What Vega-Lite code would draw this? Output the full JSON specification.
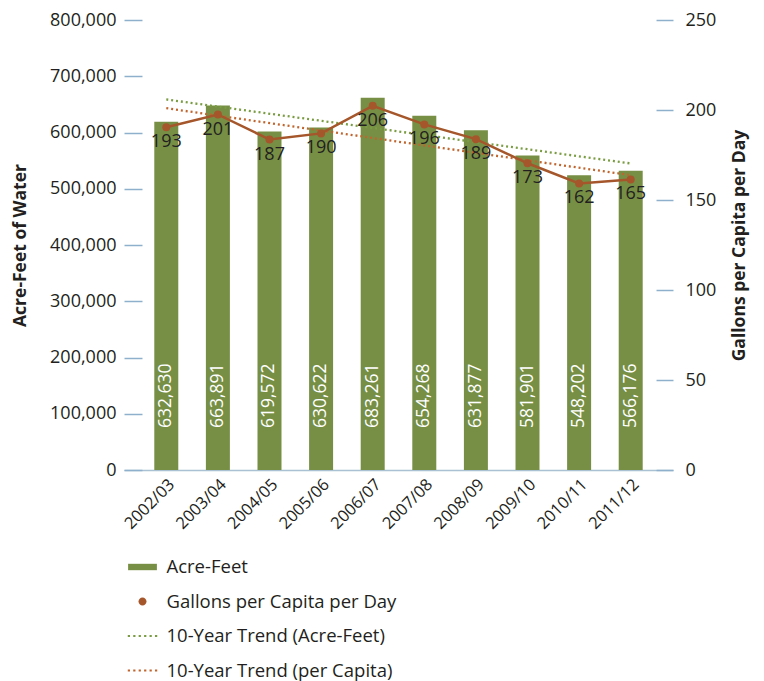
{
  "$schema": "https://vega.github.io/schema/vega-lite/v6.json",
  "width": 549,
  "height": 450,
  "autosize": "none",
  "padding": {"left": 124, "top": 20, "right": 91, "bottom": 211},
  "background": "white",
  "datasets": {
    "main": [
      {"period": "2002/03", "acre_feet": 619000, "acre_feet_label": "632,630", "gpcd": 190.4, "gpcd_label": "193"},
      {"period": "2003/04", "acre_feet": 648000, "acre_feet_label": "663,891", "gpcd": 197.5, "gpcd_label": "201"},
      {"period": "2004/05", "acre_feet": 602000, "acre_feet_label": "619,572", "gpcd": 183.6, "gpcd_label": "187"},
      {"period": "2005/06", "acre_feet": 609000, "acre_feet_label": "630,622", "gpcd": 187.0, "gpcd_label": "190"},
      {"period": "2006/07", "acre_feet": 662000, "acre_feet_label": "683,261", "gpcd": 202.3, "gpcd_label": "206"},
      {"period": "2007/08", "acre_feet": 630000, "acre_feet_label": "654,268", "gpcd": 192.0, "gpcd_label": "196"},
      {"period": "2008/09", "acre_feet": 604000, "acre_feet_label": "631,877", "gpcd": 183.8, "gpcd_label": "189"},
      {"period": "2009/10", "acre_feet": 559000, "acre_feet_label": "581,901", "gpcd": 170.4, "gpcd_label": "173"},
      {"period": "2010/11", "acre_feet": 524000, "acre_feet_label": "548,202", "gpcd": 159.2, "gpcd_label": "162"},
      {"period": "2011/12", "acre_feet": 532000, "acre_feet_label": "566,176", "gpcd": 161.4, "gpcd_label": "165"}
    ],
    "trend": [
      {"period": "2002/03", "series": "af", "value": 658700},
      {"period": "2011/12", "series": "af", "value": 545000},
      {"period": "2002/03", "series": "pc", "value": 201},
      {"period": "2011/12", "series": "pc", "value": 163.8}
    ],
    "legend": [
      {"series": "Acre-Feet"},
      {"series": "Gallons per Capita per Day"},
      {"series": "10-Year Trend (Acre-Feet)"},
      {"series": "10-Year Trend (per Capita)"}
    ]
  },
  "layer": [
    {
      "layer": [
        {
          "data": {"name": "main"},
          "mark": {"type": "bar", "color": "#778f45"},
          "encoding": {
            "x": {"field": "period", "type": "nominal", "scale": {"paddingInner": 0.535, "paddingOuter": 0.587}, "axis": {"title": null}},
            "y": {"field": "acre_feet", "type": "quantitative", "title": "Acre-Feet of Water", "scale": {"domain": [0, 800000], "nice": false},
              "axis": {"orient": "left", "title": "Acre-Feet of Water", "values": [0, 100000, 200000, 300000, 400000, 500000, 600000, 700000, 800000], "labelExpr": "format(datum.value, ',')"}}
          }
        },
        {
          "data": {"name": "main"},
          "mark": {"type": "text", "angle": 270, "align": "left", "baseline": "middle", "dx": 42, "color": "white", "font": "Open Sans", "fontSize": 17.5},
          "encoding": {
            "x": {"field": "period", "type": "nominal", "axis": {"title": null}},
            "y": {"datum": 0, "type": "quantitative", "title": "Acre-Feet of Water", "scale": {"domain": [0, 800000], "nice": false},
              "axis": {"orient": "left", "title": "Acre-Feet of Water", "values": [0, 100000, 200000, 300000, 400000, 500000, 600000, 700000, 800000], "labelExpr": "format(datum.value, ',')"}},
            "text": {"field": "acre_feet_label"}
          }
        },
        {
          "data": {"name": "trend"},
          "transform": [{"filter": "datum.series === 'af'"}],
          "mark": {"type": "line", "color": "#7a9d44", "strokeDash": [2, 2.9], "strokeWidth": 2.3},
          "encoding": {
            "x": {"field": "period", "type": "nominal", "axis": {"title": null}},
            "y": {"field": "value", "type": "quantitative", "title": "Acre-Feet of Water", "scale": {"domain": [0, 800000], "nice": false},
              "axis": {"orient": "left", "title": "Acre-Feet of Water", "values": [0, 100000, 200000, 300000, 400000, 500000, 600000, 700000, 800000], "labelExpr": "format(datum.value, ',')"}}
          }
        }
      ]
    },
    {
      "layer": [
        {
          "data": {"name": "trend"},
          "transform": [{"filter": "datum.series === 'pc'"}],
          "mark": {"type": "line", "color": "#c0652e", "strokeDash": [2, 2.9], "strokeWidth": 2.3},
          "encoding": {
            "x": {"field": "period", "type": "nominal", "axis": {"title": null}},
            "y": {"field": "value", "type": "quantitative", "title": "Gallons per Capita per Day", "scale": {"domain": [0, 250], "nice": false},
              "axis": {"orient": "right", "title": "Gallons per Capita per Day", "values": [0, 50, 100, 150, 200, 250]}}
          }
        },
        {
          "data": {"name": "main"},
          "mark": {"type": "line", "color": "#a5562a", "strokeWidth": 2.5, "point": {"filled": true, "size": 64, "color": "#a5562a"}},
          "encoding": {
            "x": {"field": "period", "type": "nominal", "axis": {"title": null}},
            "y": {"field": "gpcd", "type": "quantitative", "title": "Gallons per Capita per Day", "scale": {"domain": [0, 250], "nice": false},
              "axis": {"orient": "right", "title": "Gallons per Capita per Day", "values": [0, 50, 100, 150, 200, 250]}}
          }
        },
        {
          "data": {"name": "main"},
          "mark": {"type": "text", "baseline": "middle", "align": "center", "dy": 15, "color": "#231f20", "font": "Open Sans", "fontSize": 18},
          "encoding": {
            "x": {"field": "period", "type": "nominal", "axis": {"title": null}},
            "y": {"field": "gpcd", "type": "quantitative", "title": "Gallons per Capita per Day", "scale": {"domain": [0, 250], "nice": false},
              "axis": {"orient": "right", "title": "Gallons per Capita per Day", "values": [0, 50, 100, 150, 200, 250]}},
            "text": {"field": "gpcd_label"}
          }
        }
      ]
    },
    {
      "data": {"name": "legend"},
      "mark": {"type": "point", "filled": true, "opacity": 0},
      "encoding": {
        "color": {
          "field": "series", "type": "nominal",
          "scale": {"domain": ["Acre-Feet", "Gallons per Capita per Day", "10-Year Trend (Acre-Feet)", "10-Year Trend (per Capita)"],
            "range": ["#778f45", "#a5562a", "#7a9d44", "#c0652e"]},
          "legend": {"orient": "none", "legendX": 2.5, "legendY": 531, "title": null, "symbolSize": 1024, "symbolStrokeWidth": 0, "symbolOpacity": 1, "labelFont": "Open Sans", "labelFontSize": 18.5, "labelColor": "#231f20", "rowPadding": 8.5, "labelOffset": 8, "labelLimit": 400, "padding": 0}
        },
        "shape": {
          "field": "series", "type": "nominal",
          "scale": {"domain": ["Acre-Feet", "Gallons per Capita per Day", "10-Year Trend (Acre-Feet)", "10-Year Trend (per Capita)"],
            "range": [
              "M-0.9,-0.2H0.9V0.2H-0.9Z",
              "M-0.25,0A0.25,0.25 0 1,1 0.25,0A0.25,0.25 0 1,1 -0.25,0Z",
              "M-0.92,-0.07h0.14v0.14h-0.14zM-0.58,-0.07h0.14v0.14h-0.14zM-0.24,-0.07h0.14v0.14h-0.14zM0.1,-0.07h0.14v0.14h-0.14zM0.44,-0.07h0.14v0.14h-0.14zM0.78,-0.07h0.14v0.14h-0.14z",
              "M-0.92,-0.07h0.14v0.14h-0.14zM-0.58,-0.07h0.14v0.14h-0.14zM-0.24,-0.07h0.14v0.14h-0.14zM0.1,-0.07h0.14v0.14h-0.14zM0.44,-0.07h0.14v0.14h-0.14zM0.78,-0.07h0.14v0.14h-0.14z"
            ]},
          "legend": {"orient": "none", "legendX": 2.5, "legendY": 531, "title": null, "symbolSize": 1024, "symbolStrokeWidth": 0, "symbolOpacity": 1, "labelFont": "Open Sans", "labelFontSize": 18.5, "labelColor": "#231f20", "rowPadding": 8.5, "labelOffset": 8, "labelLimit": 400, "padding": 0}
        }
      }
    }
  ],
  "resolve": {"scale": {"y": "independent"}, "axis": {"y": "independent"}},
  "config": {
    "font": "Open Sans",
    "view": {"stroke": null},
    "axis": {"grid": false, "labelFont": "Open Sans", "titleFont": "Open Sans", "labelColor": "#231f20", "titleColor": "#231f20"},
    "axisLeft": {"offset": -18, "tickSize": 18, "tickColor": "#8fb0cc", "tickWidth": 1.5, "domain": false, "labelPadding": 8, "labelFontSize": 18, "titleFontSize": 17.5, "titleFontWeight": "bold", "titlePadding": 20},
    "axisRight": {"offset": -17, "tickSize": 17, "tickColor": "#8fb0cc", "tickWidth": 1.5, "domain": false, "labelPadding": 12, "labelFontSize": 18, "titleFontSize": 17.5, "titleFontWeight": "bold", "titlePadding": 33, "titleAngle": 270},
    "axisBottom": {"domainColor": "#a9c1d3", "domainWidth": 1.5, "ticks": false, "labelAngle": -45, "labelFontSize": 16.5, "labelPadding": 6}
  }
}
